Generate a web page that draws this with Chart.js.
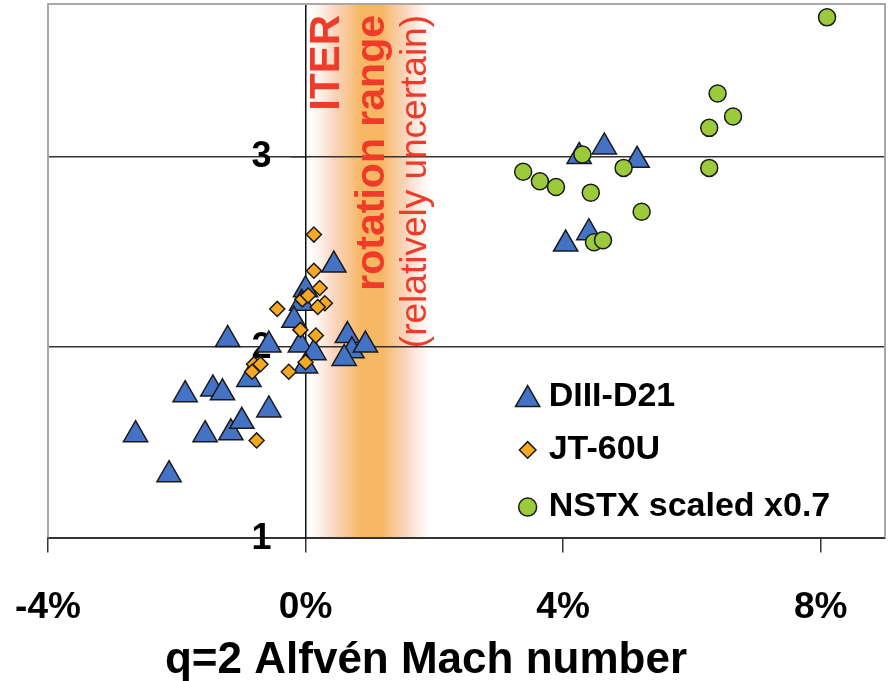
<!DOCTYPE html>
<html>
<head>
<meta charset="utf-8">
<script src="https://cdn.jsdelivr.net/npm/chart.js@4.4.1/dist/chart.umd.min.js"></script>
<style>
  html, body { margin: 0; padding: 0; background: #fff; }
  #wrap { width: 888px; height: 681px; }
</style>
</head>
<body>
<div id="wrap"><canvas id="machChart" width="888" height="681"></canvas></div>
<script>
// beta_N against q=2 Alfvén Mach number (in %)
const diiidMach = [-1.21, -0.57, -1.87, -1.44, -1.29, -0.88, -0.57, -2.64, -1.56, -1.16, -0.99, -2.12,
                   0.44, 0.00, -0.06, -0.18, -0.08, 0.13, 0.00, 0.65, 0.72, 0.93, 0.60,
                   4.25, 4.64, 5.15, 4.04, 4.40];
const diiidBeta = [2.04, 2.01, 1.75, 1.78, 1.76, 1.83, 1.67, 1.54, 1.54, 1.55, 1.61, 1.33,
                   2.43, 2.30, 2.23, 2.14, 2.01, 1.97, 1.90, 2.06, 1.98, 2.01, 1.94,
                   3.00, 3.05, 2.98, 2.54, 2.60];

const jt60uMach = [0.13, 0.13, 0.22, -0.05, 0.04, 0.30, 0.19, -0.44, -0.08, 0.16, 0.00, -0.26, -0.80, -0.70, -0.83, -0.76];
const jt60uBeta = [2.59, 2.40, 2.31, 2.25, 2.27, 2.23, 2.21, 2.20, 2.09, 2.06, 1.92, 1.87, 1.91, 1.91, 1.87, 1.51];

const nstxMach = [4.30, 3.38, 3.64, 3.89, 4.43, 4.94, 5.22, 4.48, 4.62, 8.10, 6.40, 6.64, 6.27, 6.27];
const nstxBeta = [3.01, 2.92, 2.87, 2.84, 2.81, 2.94, 2.71, 2.55, 2.56, 3.73, 3.33, 3.21, 3.15, 2.94];

const seriesNames = ['DIII-D21', 'JT-60U', 'NSTX scaled x0.7'];
const xTicks = [-4, 0, 4, 8];
const yTicks = [1, 2, 3];
const iterBand = [0.05, 1.95];   // ITER rotation range, % of Alfvén speed
const iterLines = ['ITER', 'rotation range', '(relatively uncertain)'];
const xTitle = 'q=2 Alfvén Mach number';

const FONT = "'Liberation Sans', Arial, Helvetica, sans-serif";
const RED = '#ee3b2a';
const EDGE = '#1a1a1a';

const pts = (xs, ys) => xs.map((x, i) => ({ x: x, y: ys[i] }));

const styles = [
    { pointStyle: 'triangle', radius: 14, fill: '#4472c4' },
    { pointStyle: 'rectRot', radius: 7.5, fill: '#f7a823' },
    { pointStyle: 'circle', radius: 8.5, fill: '#9bcb3b' }
];

function makeSet(i, data) {
    const s = styles[i];
    return {
        label: seriesNames[i],
        data: data,
        showLine: false,
        pointStyle: s.pointStyle,
        pointRadius: s.radius,
        pointHoverRadius: s.radius,
        pointBackgroundColor: s.fill,
        pointBorderColor: EDGE,
        pointBorderWidth: 1.5
    };
}

// keep the plot area exactly where layout.padding puts it
const noOverhang = s => { s.paddingLeft = s.paddingRight = s.paddingTop = s.paddingBottom = 0; };

const iterPlugin = {
    id: 'iterBand',
    beforeDraw(chart) {
        const { ctx, chartArea: a, scales: { x } } = chart;
        ctx.save();
        ctx.fillStyle = '#fff';
        ctx.fillRect(0, 0, chart.width, chart.height);
        const x0 = x.getPixelForValue(iterBand[0]);
        const x1 = x.getPixelForValue(iterBand[1]);
        const g = ctx.createLinearGradient(x0, 0, x1, 0);
        g.addColorStop(0, 'rgba(252,220,205,0)');
        g.addColorStop(0.2, 'rgba(249,200,170,0.75)');
        g.addColorStop(0.42, 'rgba(246,180,92,0.95)');
        g.addColorStop(0.6, 'rgba(246,180,92,0.95)');
        g.addColorStop(0.8, 'rgba(249,200,170,0.75)');
        g.addColorStop(1, 'rgba(252,220,205,0)');
        ctx.fillStyle = g;
        ctx.fillRect(x0, a.top, x1 - x0, a.bottom - a.top);
        ctx.restore();
    },
    beforeDatasetsDraw(chart) {
        const { ctx, chartArea: a, scales: { x, y } } = chart;
        const cols = [0.34, 1.04, 1.71];
        const fonts = ['bold 42px ' + FONT, 'bold 41px ' + FONT, '37px ' + FONT];
        ctx.save();
        ctx.fillStyle = RED;
        ctx.textAlign = 'right';
        ctx.textBaseline = 'middle';
        iterLines.forEach((t, i) => {
            ctx.save();
            ctx.translate(x.getPixelForValue(cols[i]), a.top + 11);
            ctx.rotate(-Math.PI / 2);
            ctx.font = fonts[i];
            ctx.fillText(t, 0, 0);
            ctx.restore();
        });
        // plot frame (left, top, right)
        ctx.strokeStyle = '#a8a8a8';
        ctx.lineWidth = 2;
        ctx.beginPath();
        ctx.moveTo(a.left, a.bottom);
        ctx.lineTo(a.left, a.top);
        ctx.lineTo(a.right, a.top);
        ctx.lineTo(a.right, a.bottom);
        ctx.stroke();
        // y tick labels, left of the axis that crosses at x = 0
        const axisX = x.getPixelForValue(0);
        ctx.fillStyle = '#000';
        ctx.font = 'bold 36px ' + FONT;
        yTicks.forEach(v => ctx.fillText(String(v), axisX - 34, y.getPixelForValue(v) + 1));
        ctx.restore();
    },
    afterDraw(chart) {
        const { ctx, scales: { x, y } } = chart;
        ctx.save();
        // legend inside the plot
        const lx = x.getPixelForValue(3.45);
        const rows = [1.74, 1.46, 1.16].map(v => y.getPixelForValue(v));
        const sizes = [14, 8.3, 9];
        ctx.textBaseline = 'middle';
        ctx.textAlign = 'left';
        styles.forEach((s, i) => {
            ctx.fillStyle = s.fill;
            ctx.strokeStyle = EDGE;
            ctx.lineWidth = 1.5;
            Chart.helpers.drawPoint(ctx, {
                pointStyle: s.pointStyle, radius: sizes[i], borderWidth: 1.5, rotation: 0
            }, lx, rows[i] + (i === 0 ? 3 : 0));
            ctx.fillStyle = '#000';
            ctx.font = 'bold 34px ' + FONT;
            ctx.fillText(seriesNames[i], lx + 21, rows[i]);
        });
        // axis title
        ctx.font = 'bold 44px ' + FONT;
        ctx.textAlign = 'center';
        ctx.fillStyle = '#000';
        ctx.fillText(xTitle, 426, chart.height - 20);
        ctx.restore();
    }
};

new Chart(document.getElementById('machChart'), {
    type: 'scatter',
    data: {
        datasets: [
            makeSet(2, pts(nstxMach, nstxBeta)),
            makeSet(1, pts(jt60uMach, jt60uBeta)),
            makeSet(0, pts(diiidMach, diiidBeta))
        ]
    },
    options: {
        responsive: false,
        animation: false,
        devicePixelRatio: 1,
        layout: { autoPadding: false, padding: { left: 48, top: 4, right: 3, bottom: 18 } },
        plugins: {
            legend: { display: false },
            tooltip: { enabled: false }
        },
        scales: {
            x: {
                type: 'linear',
                position: 'bottom',
                min: -4,
                max: 9,
                afterBuildTicks: s => { s.ticks = xTicks.map(v => ({ value: v })); },
                afterFit: noOverhang,
                grid: { drawOnChartArea: false, drawTicks: true, tickLength: 15, color: '#333', lineWidth: 1.5 },
                border: { display: true, color: '#333', width: 2 },
                ticks: {
                    color: '#000',
                    padding: 33,
                    maxRotation: 0,
                    font: { family: FONT, size: 37, weight: 'bold' },
                    callback: v => v + '%'
                }
            },
            y: {
                type: 'linear',
                position: { x: 0 },
                min: 1,
                max: 3.8,
                afterBuildTicks: s => { s.ticks = yTicks.map(v => ({ value: v })); },
                afterFit: noOverhang,
                grid: { color: '#333', lineWidth: 1.5, tickLength: 14 },
                border: { display: true, color: '#111', width: 1.5 },
                ticks: { display: false }
            }
        }
    },
    plugins: [iterPlugin]
});
</script>
</body>
</html>
